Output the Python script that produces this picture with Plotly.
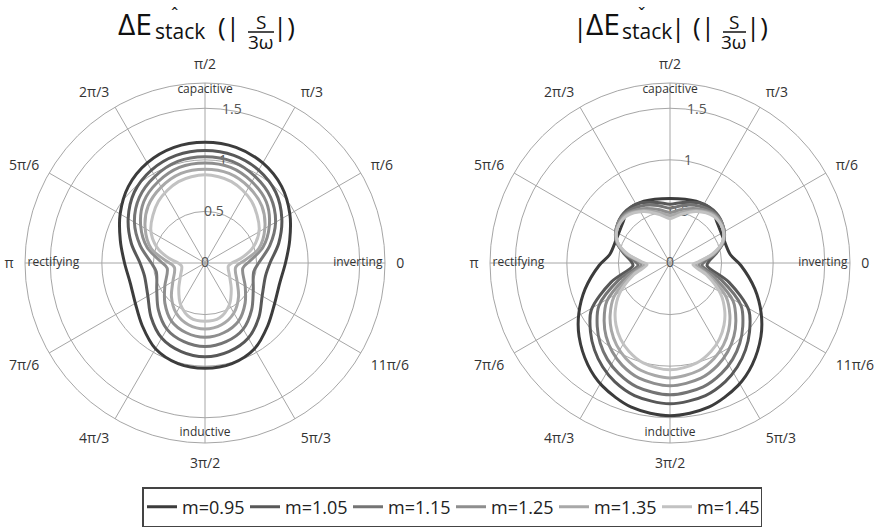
import plotly.graph_objects as go

m_labels = ["m=0.95", "m=1.05", "m=1.15", "m=1.25", "m=1.35", "m=1.45"]
colors = ["#3c3c3c", "#585858", "#747474", "#8e8e8e", "#a8a8a8", "#c2c2c2"]

# ---- left chart: ΔE^stack ----
L_theta = [
    [90,75,60,45,30,15,0,-15,-30,-45,-60,-75,-90,-105,-120,-135,-150,-165,-180,-195,-210,-225,-240,-255,-270],
    [90,75,60,45,30,15,0,-12,-30,-45,-60,-75,-90,-105,-120,-135,-150,-168,-180,-195,-210,-225,-240,-255,-270],
    [90,75,60,45,30,15,0,-10,-30,-45,-60,-75,-90,-105,-120,-135,-150,-170,-180,-195,-210,-225,-240,-255,-270],
    [90,75,60,45,30,15,2,-8,-30,-45,-60,-75,-90,-105,-120,-135,-150,-172,-182,-195,-210,-225,-240,-255,-270],
    [90,75,60,45,30,15,5,-8,-30,-45,-60,-75,-90,-105,-120,-135,-150,-172,-185,-195,-210,-225,-240,-255,-270],
    [90,72,53,32,18,8,0,-8,-28,-45,-60,-75,-90,-105,-120,-135,-152,-172,-180,-188,-198,-212,-233,-252,-270],
]
L_r = [
    [1.17,1.16,1.12,1.05,0.95,0.85,0.78,0.75,0.78,0.86,0.96,1.01,1.02,1.01,0.96,0.86,0.78,0.75,0.78,0.85,0.95,1.05,1.12,1.16,1.17],
    [1.09,1.08,1.04,0.97,0.86,0.74,0.63,0.60,0.64,0.74,0.84,0.89,0.91,0.89,0.84,0.74,0.64,0.60,0.63,0.74,0.86,0.97,1.04,1.08,1.09],
    [1.03,1.02,0.97,0.90,0.79,0.65,0.52,0.48,0.54,0.64,0.74,0.79,0.81,0.79,0.74,0.64,0.54,0.48,0.52,0.65,0.79,0.90,0.97,1.02,1.03],
    [0.97,0.96,0.91,0.84,0.72,0.58,0.43,0.37,0.45,0.55,0.65,0.70,0.72,0.70,0.65,0.55,0.45,0.37,0.43,0.58,0.72,0.84,0.91,0.96,0.97],
    [0.91,0.90,0.85,0.78,0.67,0.54,0.40,0.30,0.36,0.46,0.56,0.62,0.64,0.62,0.56,0.46,0.36,0.30,0.40,0.54,0.67,0.78,0.85,0.90,0.91],
    [0.855,0.83,0.75,0.62,0.49,0.36,0.26,0.228,0.27,0.36,0.47,0.55,0.565,0.55,0.47,0.36,0.27,0.228,0.26,0.36,0.49,0.62,0.75,0.83,0.855],
]

# ---- right chart: |ΔE˘stack| ----
R_grid = [90,78,63,47,33,22,12,3,-4,-18,-31,-41,-49,-57,-65,-75,-90,-105,-115,-123,-131,-139,-149,-162,-176,-183,-192,-202,-213,-227,-243,-258,-270]
R_theta = [
    [90,67,52,40,25,8,-2,-17,-29,-39,-51,-61,-75,-90,-105,-119,-129,-141,-151,-163,-178,-188,-205,-220,-232,-247,-270],
    R_grid, R_grid, R_grid, R_grid, R_grid,
]
R_r = [
    [0.626,0.65,0.656,0.60,0.57,0.59,0.688,0.86,1.011,1.134,1.267,1.359,1.447,1.48,1.447,1.359,1.267,1.134,1.011,0.86,0.688,0.59,0.57,0.60,0.656,0.65,0.626],
    [0.57,0.60,0.65,0.66,0.62,0.56,0.46,0.38,0.36,0.60,0.891,1.021,1.116,1.20,1.269,1.33,1.365,1.33,1.269,1.20,1.116,1.021,0.891,0.60,0.36,0.38,0.46,0.56,0.62,0.66,0.65,0.60,0.57],
    [0.53,0.57,0.62,0.65,0.62,0.56,0.45,0.34,0.31,0.52,0.804,0.935,1.031,1.114,1.181,1.243,1.278,1.243,1.181,1.114,1.031,0.935,0.804,0.52,0.31,0.34,0.45,0.56,0.62,0.65,0.62,0.57,0.53],
    [0.49,0.53,0.59,0.64,0.62,0.56,0.44,0.31,0.28,0.45,0.713,0.846,0.944,1.027,1.095,1.156,1.191,1.156,1.095,1.027,0.944,0.846,0.713,0.45,0.28,0.31,0.44,0.56,0.62,0.64,0.59,0.53,0.49],
    [0.46,0.50,0.57,0.63,0.61,0.55,0.43,0.29,0.25,0.40,0.633,0.769,0.866,0.950,1.018,1.079,1.114,1.079,1.018,0.950,0.866,0.769,0.633,0.40,0.25,0.29,0.43,0.55,0.61,0.63,0.57,0.50,0.46],
    [0.43,0.48,0.56,0.62,0.61,0.55,0.42,0.28,0.223,0.37,0.57,0.703,0.798,0.879,0.944,1.003,1.036,1.003,0.944,0.879,0.798,0.703,0.57,0.37,0.223,0.28,0.42,0.55,0.61,0.62,0.56,0.48,0.43],
]

radial_ticks = [0, 0.5, 1, 1.5]
radial_text = ["0", "0.5", "1", "1.5"]
ang_vals = [0, 30, 60, 90, 120, 150, 180, 210, 240, 270, 300, 330]
ang_text = ["0", "π/6", "π/3", "π/2", "2π/3", "5π/6", "π", "7π/6", "4π/3", "3π/2", "5π/3", "11π/6"]
region_text = ["capacitive", "inductive"]
region_r = [1.675, 1.645]
region_theta = [90, 270]

FONT = "Open Sans"
W, H = 876, 527
def X(px): return px / W
def Y(px): return 1 - px / H

fig = go.Figure()
for pol in ["polar", "polar2"]:
    fig.add_trace(go.Scatterpolar(r=radial_ticks, theta=[80]*4, text=radial_text, mode="text",
                                  textfont=dict(size=14, color="#555", family=FONT),
                                  showlegend=False, hoverinfo="skip", subplot=pol))
    fig.add_trace(go.Scatterpolar(r=region_r, theta=region_theta, text=region_text, mode="text",
                                  textfont=dict(size=12, color="#333", family=FONT),
                                  showlegend=False, hoverinfo="skip", subplot=pol))
    fig.add_trace(go.Scatterpolar(r=[1.72], theta=[180], text=["rectifying"], mode="text",
                                  textposition="middle right",
                                  textfont=dict(size=12, color="#333", family=FONT),
                                  showlegend=False, hoverinfo="skip", subplot=pol))
    fig.add_trace(go.Scatterpolar(r=[1.72], theta=[0], text=["inverting"], mode="text",
                                  textposition="middle left",
                                  textfont=dict(size=12, color="#333", family=FONT),
                                  showlegend=False, hoverinfo="skip", subplot=pol))

for i in range(6):
    fig.add_trace(go.Scatterpolar(r=L_r[i], theta=L_theta[i], mode="lines", name=m_labels[i],
                                  line=dict(color=colors[i], width=3, shape="spline", smoothing=0.9),
                                  legendgroup=m_labels[i], subplot="polar"))
for i in range(6):
    fig.add_trace(go.Scatterpolar(r=R_r[i], theta=R_theta[i], mode="lines", name=m_labels[i],
                                  line=dict(color=colors[i], width=3, shape="spline", smoothing=0.9),
                                  legendgroup=m_labels[i], showlegend=False, subplot="polar2"))

def polar_layout(x0, x1):
    return dict(
        domain=dict(x=[X(x0), X(x1)], y=[Y(443), Y(83)]),
        bgcolor="white",
        radialaxis=dict(range=[0, 1.745], tickvals=radial_ticks, showticklabels=False, ticks="",
                        showline=False, gridcolor="#a6a6a6", gridwidth=1),
        angularaxis=dict(tickvals=ang_vals, ticktext=ang_text, direction="counterclockwise", rotation=0,
                         ticks="outside", ticklen=8, tickcolor="rgba(0,0,0,0)",
                         gridcolor="#a6a6a6", linecolor="#a6a6a6", linewidth=1,
                         tickfont=dict(size=14, color="#333", family=FONT)),
    )

annotations = []
def ann(text, x, y, size, xanchor="center"):
    annotations.append(dict(text=text, x=X(x), y=Y(y), xref="paper", yref="paper", showarrow=False,
                            xanchor=xanchor, yanchor="middle", borderpad=0,
                            font=dict(size=size, color="#111", family=FONT)))

# left title: ΔE^stack (|S/3ω|)
ann("ΔE", 153, 24, 30, "right")
ann("stack", 154, 31, 21, "left")
ann("ˆ", 174, 14, 18)
ann("(|", 229, 26, 26)
ann("S", 261, 22, 19)
ann("3ω", 261, 42, 19)
ann("|)", 284, 26, 26)
# right title: |ΔE˘stack| (|S/3ω|)
ann("|", 580, 27, 26)
ann("ΔE", 621, 24, 30, "right")
ann("stack", 621, 31, 21, "left")
ann("ˇ", 641, 14, 18)
ann("|", 678, 27, 26)
ann("(|", 704, 26, 26)
ann("S", 734, 22, 19)
ann("3ω", 734, 42, 19)
ann("|)", 757, 26, 26)

shapes = [
    dict(type="line", xref="paper", yref="paper", x0=X(248), x1=X(274), y0=Y(32), y1=Y(32),
         line=dict(color="#111", width=1.5)),
    dict(type="line", xref="paper", yref="paper", x0=X(723), x1=X(746), y0=Y(32), y1=Y(32),
         line=dict(color="#111", width=1.5)),
]

fig.update_layout(
    width=W, height=H, margin=dict(l=0, r=0, t=0, b=0),
    paper_bgcolor="white", font=dict(family=FONT, color="#222"),
    polar=polar_layout(25, 385), polar2=polar_layout(490, 850),
    annotations=annotations, shapes=shapes,
    legend=dict(orientation="h", x=X(452), xanchor="center", y=Y(487), yanchor="top",
                bordercolor="#444", borderwidth=1.5, bgcolor="white",
                entrywidth=58, entrywidthmode="pixels",
                font=dict(size=18, color="#222", family=FONT), itemwidth=30),
)
fig.write_html("out.html")
